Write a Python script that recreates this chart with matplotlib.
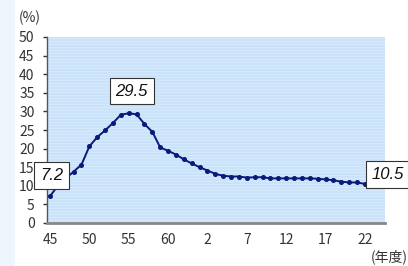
import matplotlib.pyplot as plt
from matplotlib.patches import Rectangle

plt.rcParams['font.family'] = ['Noto Sans CJK JP', 'DejaVu Sans']

# 年度 (西暦) と割合(%)
years = list(range(1970, 2011))
values = [7.2, 10.0, 12.0, 13.8, 15.7, 20.6, 23.1, 24.9, 26.9, 29.1,
          29.5, 29.2, 26.6, 24.5, 20.3, 19.4, 18.4, 17.1, 16.0, 15.0,
          14.1, 13.2, 12.7, 12.5, 12.5, 12.2, 12.3, 12.3, 12.0, 12.0,
          12.0, 12.0, 12.0, 12.0, 11.9, 11.7, 11.5, 11.1, 10.9, 10.9,
          10.5]
tick_years = [1970, 1975, 1980, 1985, 1990, 1995, 2000, 2005, 2010]
tick_labels = ['45', '50', '55', '60', '2', '7', '12', '17', '22']
labeled = {1970: '7.2', 1980: '29.5', 2010: '10.5'}

fig = plt.figure(figsize=(4.08, 2.66), dpi=100)
fig.patches.append(Rectangle((0, 0), 15 / 408, 1, transform=fig.transFigure,
                             facecolor='#eef5fd', edgecolor='none', zorder=0))

ax = fig.add_axes([47 / 408, 43 / 266, 338 / 408, 186 / 266])
ax.set_facecolor('#cbe3fa')
# faint horizontal stripes of the background
for yy in [i * 0.8 for i in range(63)]:
    ax.axhline(yy, color='#dcecfc', lw=0.5, zorder=0)

ax.plot(years, values, color='#0a1a7a', lw=1.4, marker='o', ms=2.6, zorder=3)

ax.set_xlim(1969.62, 2012.54)
ax.set_ylim(0, 50)
ax.set_yticks(range(0, 51, 5))
ax.set_xticks(tick_years)
ax.set_xticklabels(tick_labels)
ax.tick_params(axis='x', length=0, pad=7, labelsize=10, colors='#333333')
ax.tick_params(axis='y', length=3, width=1, pad=6, labelsize=10,
               colors='#333333', direction='out')

for s in ['top', 'right']:
    ax.spines[s].set_visible(False)
ax.spines['left'].set_color('#555555')
ax.spines['left'].set_linewidth(1.0)
ax.spines['bottom'].set_color('#888888')
ax.spines['bottom'].set_linewidth(2.0)

box = dict(boxstyle='square,pad=0.35', facecolor='white', edgecolor='#333333', lw=0.8)
lbl = dict(ha='center', va='center', fontsize=12, style='italic',
           family='Liberation Sans', color='#111111', bbox=box, zorder=5,
           textcoords='offset points', annotation_clip=False)
ax.annotate(labeled[1970], (1970, values[0]), xytext=(1, 15), **lbl)
ax.annotate(labeled[1980], (1980, values[10]), xytext=(2, 16), **lbl)
ax.annotate(labeled[2010], (2010, values[-1]), xytext=(16.5, 7), **lbl)

fig.text(30 / 408, 1 - 18 / 266, '(%)', ha='center', va='center', fontsize=10, color='#333333')
fig.text(389 / 408, 1 - 257 / 266, '(年度)', ha='center', va='center', fontsize=10, color='#333333')

fig.savefig('out.png', dpi=100)
